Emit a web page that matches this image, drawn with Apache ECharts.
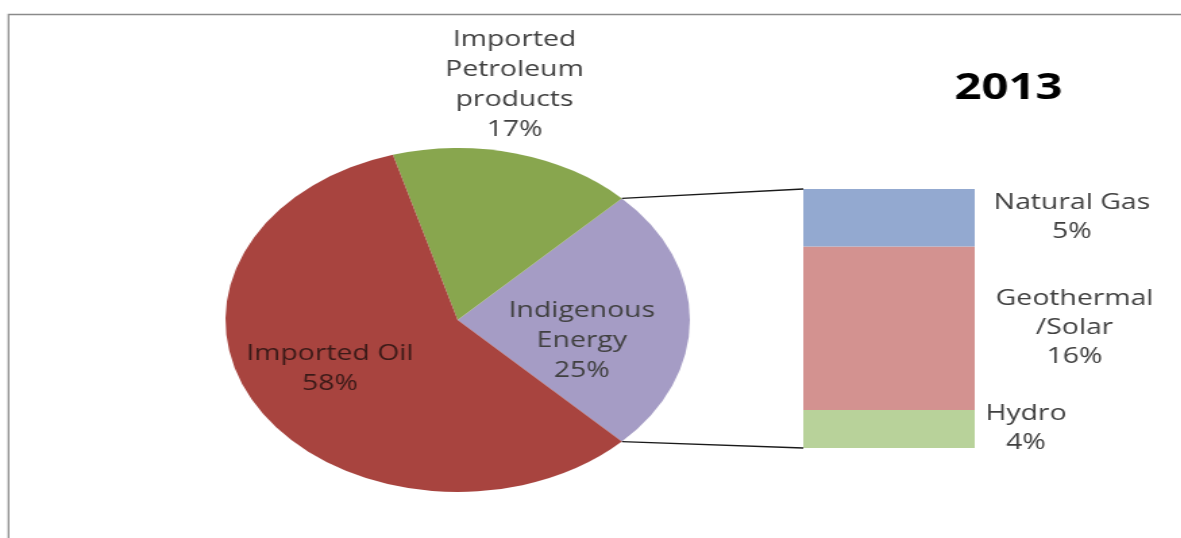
<!DOCTYPE html>
<html>
<head>
<meta charset="utf-8">
<script src="https://cdn.jsdelivr.net/npm/echarts@6/dist/echarts.min.js"></script>
<style>
  html, body { margin: 0; padding: 0; background: #fff; overflow: hidden; }
  #wrap { width: 1181px; height: 538px; overflow: hidden; }
  /* the original picture is stretched sideways, so draw narrow and scale */
  #main { width: 875px; height: 538px; transform: scaleX(1.35); transform-origin: 0 0; }
</style>
</head>
<body>
<div id="wrap"><div id="main"></div></div>
<script>
// pie: Indigenous first so it sits on the right, facing the bar
const pieNames = ['Indigenous Energy', 'Imported Petroleum products', 'Imported Oil']
const pieLabels = ['Indigenous\nEnergy', 'Imported\nPetroleum\nproducts', 'Imported Oil']
const pieValues = [25, 17, 58]

// breakdown of indigenous energy, bottom to top (labels are rounded)
const barNames = ['Hydro', 'Geothermal/Solar', 'Natural Gas']
const barLabels = ['Hydro', 'Geothermal\n/Solar', 'Natural Gas']
const barValues = [3.6, 15.5, 5.45]

const chartTitle = '2013'

// styles
const pieColors = ['#a59cc5', '#88a64e', '#a8443f']
const pieLabelColors = ['#404040', '#404040', '#3a1a18']
const pieLabelOffsets = [[3, 21], [20, -149], [-18, 4]]
const barColors = ['#b8d29a', '#d39290', '#93a9d0']
const barLabelOffsets = [38, 74, 72]

const FONT = '"Open Sans", "Noto Sans", sans-serif'
const cx = 339, cy = 320, radius = 172
const startAngle = -45
const gridLeft = 595, gridTop = 189, gridW = 127, gridH = 259

const chart = echarts.init(document.getElementById('main'), null, { renderer: 'canvas' })

let pieData = []
for (let i = 0; i < pieValues.length; i++) {
  pieData.push({
    name: pieNames[i],
    value: pieValues[i],
    itemStyle: { color: pieColors[i] },
    label: {
      formatter: pieLabels[i] + '\n' + pieValues[i] + '%',
      color: pieLabelColors[i],
      offset: pieLabelOffsets[i]
    }
  })
}

const barTotal = barValues.reduce((a, b) => a + b, 0)
let barSeries = []
for (let i = 0; i < barValues.length; i++) {
  barSeries.push({
    type: 'bar',
    name: barNames[i],
    stack: 'indigenous',
    barWidth: '100%',
    data: [barValues[i]],
    itemStyle: { color: barColors[i] },
    silent: true,
    label: {
      show: true,
      position: 'right',
      distance: 0,
      align: 'center',
      offset: [barLabelOffsets[i], 0],
      formatter: barLabels[i] + '\n' + Math.round(barValues[i]) + '%',
      fontFamily: FONT,
      fontSize: 21,
      lineHeight: 29,
      color: '#404040'
    }
  })
}

const option = {
  backgroundColor: '#fff',
  animation: false,
  title: {
    text: chartTitle,
    left: 742,
    top: 67,
    textAlign: 'center',
    textStyle: { fontFamily: FONT, fontWeight: 'bold', fontSize: 35, color: '#000' }
  },
  grid: { left: gridLeft, top: gridTop, width: gridW, height: gridH },
  xAxis: { type: 'category', data: [''], show: false },
  yAxis: { type: 'value', min: 0, max: barTotal, show: false },
  series: [
    {
      type: 'pie',
      center: [cx, cy],
      radius: radius,
      startAngle: startAngle,
      clockwise: false,
      avoidLabelOverlap: false,
      silent: true,
      label: {
        show: true,
        position: 'inside',
        fontFamily: FONT,
        fontSize: 21,
        lineHeight: 30,
        align: 'center'
      },
      labelLine: { show: false },
      data: pieData
    }
  ].concat(barSeries)
}
chart.setOption(option)

// frame and connector lines from the indigenous slice edges to the bar
const total = pieValues.reduce((a, b) => a + b, 0)
const aTop = (startAngle + 360 * pieValues[0] / total) * Math.PI / 180
const aBot = startAngle * Math.PI / 180
const yTop = chart.convertToPixel({ yAxisIndex: 0 }, barTotal)
const yBot = chart.convertToPixel({ yAxisIndex: 0 }, 0)
const lineStyle = { stroke: '#1a1a1a', lineWidth: 1.3 }

chart.setOption({
  graphic: [
    {
      type: 'rect',
      shape: { x: 6.3, y: 14.5, width: 2000, height: 2000 },
      style: { fill: null, stroke: '#8a8a8a', lineWidth: 1.3 },
      silent: true
    },
    {
      type: 'line',
      shape: { x1: cx + radius * Math.cos(aTop), y1: cy - radius * Math.sin(aTop), x2: gridLeft, y2: yTop },
      style: lineStyle,
      silent: true
    },
    {
      type: 'line',
      shape: { x1: cx + radius * Math.cos(aBot), y1: cy - radius * Math.sin(aBot), x2: gridLeft, y2: yBot },
      style: lineStyle,
      silent: true
    }
  ]
})
</script>
</body>
</html>
